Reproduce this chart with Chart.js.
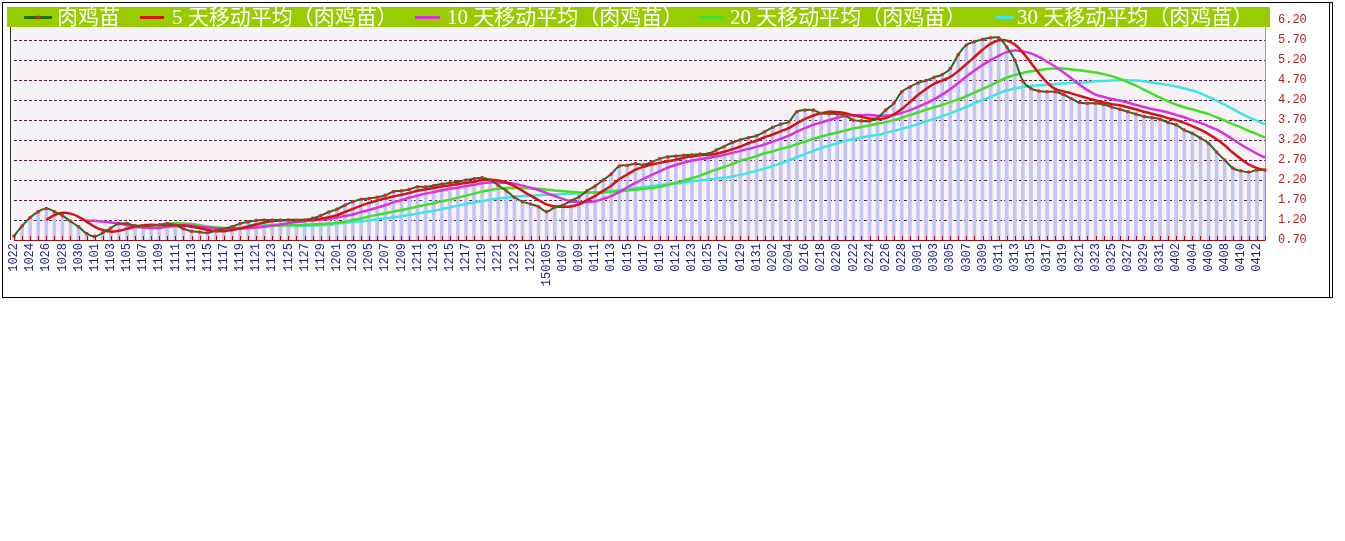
<!DOCTYPE html>
<html>
<head>
<meta charset="utf-8">
<script src="https://cdn.jsdelivr.net/npm/chart.js@4/dist/chart.umd.min.js"></script>
<style>
  html, body { margin: 0; padding: 0; background: #ffffff; }
  #wrap { width: 1345px; height: 541px; }
</style>
</head>
<body>
<div id="wrap"><canvas id="chart" width="1345" height="541"></canvas></div>
<script>
// dates (every other one is shown on the axis)
var dates = [
  '1022','1023','1024','1025','1026','1027','1028','1029','1030','1031',
  '1101','1102','1103','1104','1105','1106','1107','1108','1109','1110',
  '1111','1112','1113','1114','1115','1116','1117','1118','1119','1120',
  '1121','1122','1123','1124','1125','1126','1127','1128','1129','1130',
  '1201','1202','1203','1204','1205','1206','1207','1208','1209','1210',
  '1211','1212','1213','1214','1215','1216','1217','1218','1219','1220',
  '1221','1222','1223','1224','1225','1226','150105','0106','0107','0108',
  '0109','0110','0111','0112','0113','0114','0115','0116','0117','0118',
  '0119','0120','0121','0122','0123','0124','0125','0126','0127','0128',
  '0129','0130','0131','0201','0202','0203','0204','0215','0216','0217',
  '0218','0219','0220','0221','0222','0223','0224','0225','0226','0227',
  '0228','0228','0301','0302','0303','0304','0305','0306','0307','0308',
  '0309','0310','0311','0312','0313','0314','0315','0316','0317','0318',
  '0319','0320','0321','0322','0323','0324','0325','0326','0327','0328',
  '0329','0330','0331','0401','0402','0403','0404','0405','0406','0407',
  '0408','0409','0410','0411','0412','0413'
];

// 肉鸡苗 price
var chick = [
  0.80,1.05,1.26,1.41,1.49,1.41,1.31,1.17,1.03,0.86,
  0.79,0.88,1.00,1.11,1.11,1.06,1.05,1.06,1.08,1.11,
  1.07,0.98,0.92,0.90,0.88,0.94,0.98,1.03,1.11,1.15,
  1.19,1.20,1.20,1.20,1.20,1.19,1.20,1.24,1.31,1.40,
  1.47,1.57,1.66,1.72,1.74,1.77,1.82,1.91,1.93,1.97,
  2.03,2.03,2.06,2.10,2.13,2.16,2.20,2.23,2.26,2.20,
  2.07,1.93,1.77,1.66,1.60,1.53,1.41,1.52,1.57,1.68,
  1.78,1.93,2.05,2.20,2.35,2.55,2.57,2.61,2.58,2.65,
  2.73,2.78,2.80,2.82,2.83,2.85,2.86,2.95,3.04,3.14,
  3.21,3.26,3.31,3.41,3.52,3.60,3.66,3.91,3.95,3.95,
  3.87,3.86,3.85,3.81,3.70,3.68,3.68,3.76,3.95,4.12,
  4.41,4.53,4.63,4.69,4.77,4.84,4.99,5.34,5.58,5.66,
  5.72,5.76,5.76,5.53,5.20,4.68,4.49,4.43,4.41,4.41,
  4.34,4.24,4.14,4.12,4.12,4.09,4.03,3.97,3.91,3.85,
  3.79,3.76,3.72,3.64,3.58,3.45,3.37,3.25,3.12,2.90,
  2.70,2.50,2.43,2.40,2.45,2.45
];

var ma5 = [
  null,null,null,null,1.20,1.32,1.38,1.36,1.28,1.16,
  1.03,0.95,0.91,0.93,0.98,1.03,1.07,1.08,1.07,1.07,
  1.07,1.06,1.03,1.00,0.95,0.92,0.92,0.95,0.99,1.04,
  1.09,1.14,1.17,1.19,1.20,1.20,1.20,1.21,1.23,1.27,
  1.32,1.40,1.48,1.56,1.63,1.69,1.74,1.79,1.83,1.88,
  1.93,1.97,2.00,2.04,2.07,2.10,2.13,2.16,2.20,2.21,
  2.19,2.14,2.05,1.93,1.81,1.70,1.59,1.54,1.53,1.54,
  1.59,1.70,1.80,1.93,2.06,2.22,2.34,2.46,2.53,2.59,
  2.63,2.67,2.71,2.76,2.79,2.82,2.83,2.86,2.91,2.97,
  3.04,3.12,3.19,3.27,3.34,3.42,3.50,3.62,3.73,3.81,
  3.87,3.91,3.90,3.87,3.82,3.78,3.74,3.73,3.75,3.84,
  3.98,4.15,4.33,4.48,4.61,4.69,4.78,4.93,5.10,5.28,
  5.46,5.61,5.70,5.69,5.59,5.39,5.13,4.87,4.64,4.48,
  4.42,4.37,4.31,4.25,4.19,4.14,4.10,4.07,4.02,3.97,
  3.91,3.86,3.81,3.75,3.70,3.63,3.55,3.46,3.35,3.22,
  3.07,2.89,2.73,2.59,2.50,2.45
];

var ma10 = [
  null,null,null,null,null,null,null,null,null,1.18,
  1.18,1.16,1.14,1.11,1.07,1.03,1.01,1.00,1.00,1.03,
  1.05,1.06,1.06,1.03,1.01,1.00,0.99,0.99,0.99,1.00,
  1.01,1.03,1.06,1.09,1.12,1.15,1.17,1.19,1.21,1.23,
  1.26,1.30,1.34,1.40,1.45,1.51,1.57,1.64,1.70,1.76,
  1.81,1.86,1.90,1.94,1.98,2.01,2.05,2.08,2.12,2.14,
  2.14,2.13,2.11,2.06,2.01,1.95,1.87,1.80,1.73,1.67,
  1.65,1.65,1.67,1.73,1.80,1.90,2.02,2.13,2.23,2.33,
  2.42,2.51,2.58,2.64,2.69,2.72,2.75,2.79,2.83,2.88,
  2.93,2.98,3.03,3.09,3.16,3.23,3.31,3.41,3.50,3.58,
  3.64,3.70,3.76,3.80,3.82,3.82,3.83,3.81,3.81,3.83,
  3.88,3.95,4.03,4.12,4.22,4.34,4.47,4.63,4.79,4.94,
  5.08,5.20,5.31,5.40,5.44,5.42,5.37,5.28,5.16,5.04,
  4.90,4.75,4.59,4.45,4.34,4.28,4.23,4.19,4.14,4.08,
  4.03,3.98,3.94,3.89,3.83,3.77,3.70,3.63,3.55,3.46,
  3.35,3.22,3.09,2.97,2.86,2.76
];

var ma20 = [
  null,null,null,null,null,null,null,null,null,null,
  null,null,null,null,null,null,null,null,null,1.10,
  1.12,1.11,1.10,1.07,1.04,1.02,1.00,0.99,1.00,1.01,
  1.03,1.05,1.06,1.06,1.07,1.07,1.08,1.09,1.10,1.11,
  1.13,1.16,1.20,1.24,1.29,1.33,1.37,1.41,1.45,1.49,
  1.54,1.58,1.62,1.67,1.71,1.76,1.81,1.86,1.91,1.95,
  1.98,2.00,2.00,2.00,1.99,1.98,1.96,1.94,1.92,1.91,
  1.89,1.89,1.89,1.89,1.91,1.92,1.94,1.96,1.98,2.00,
  2.03,2.08,2.13,2.19,2.25,2.31,2.39,2.46,2.53,2.60,
  2.68,2.74,2.80,2.87,2.92,2.98,3.03,3.10,3.16,3.23,
  3.29,3.34,3.39,3.44,3.49,3.53,3.57,3.61,3.65,3.70,
  3.76,3.83,3.89,3.96,4.02,4.08,4.15,4.22,4.30,4.39,
  4.48,4.57,4.67,4.76,4.83,4.88,4.92,4.95,4.98,4.99,
  4.99,4.97,4.95,4.92,4.89,4.85,4.80,4.73,4.65,4.56,
  4.46,4.36,4.26,4.17,4.09,4.02,3.97,3.91,3.85,3.77,
  3.69,3.60,3.52,3.43,3.35,3.26
];

var ma30 = [
  null,null,null,null,null,null,null,null,null,null,
  null,null,null,null,null,null,null,null,null,null,
  null,null,null,null,null,null,null,null,null,1.07,
  1.08,1.08,1.08,1.08,1.07,1.06,1.06,1.06,1.07,1.08,
  1.11,1.13,1.15,1.17,1.19,1.22,1.24,1.27,1.30,1.33,
  1.36,1.40,1.43,1.47,1.52,1.56,1.60,1.64,1.67,1.71,
  1.74,1.76,1.78,1.80,1.81,1.82,1.83,1.84,1.85,1.86,
  1.87,1.88,1.89,1.91,1.93,1.95,1.98,2.00,2.02,2.05,
  2.07,2.10,2.12,2.14,2.17,2.19,2.21,2.24,2.26,2.29,
  2.33,2.38,2.43,2.49,2.55,2.62,2.69,2.77,2.85,2.93,
  3.00,3.06,3.12,3.18,3.22,3.26,3.30,3.33,3.38,3.43,
  3.48,3.54,3.60,3.67,3.73,3.80,3.87,3.95,4.03,4.12,
  4.20,4.28,4.37,4.44,4.49,4.53,4.56,4.57,4.59,4.60,
  4.62,4.63,4.64,4.65,4.67,4.68,4.69,4.70,4.70,4.69,
  4.67,4.64,4.61,4.58,4.54,4.49,4.44,4.37,4.28,4.19,
  4.09,3.98,3.87,3.77,3.68,3.60
];

var seriesNames = ['肉鸡苗', '5 天移动平均（肉鸡苗）', '10 天移动平均（肉鸡苗）', '20 天移动平均（肉鸡苗）', '30 天移动平均（肉鸡苗）'];
var seriesColors = ['#1f6f1f', '#d41414', '#dc32dc', '#44dd2a', '#40e4e4'];

var yMin = 0.7, yMax = 6.2, yStep = 0.5;

// background, little up-ticks on the x axis, hand drawn legend bar, outer frame
var decorPlugin = {
  id: 'decor',
  beforeDraw: function (chart) {
    var ctx = chart.ctx, a = chart.chartArea;
    ctx.save();
    ctx.fillStyle = '#ffffff';
    ctx.fillRect(0, 0, chart.width, chart.height);
    ctx.fillStyle = '#f7f2f5';
    ctx.fillRect(10, a.top, a.right - 10, a.bottom - a.top);
    ctx.strokeStyle = '#333333';
    ctx.lineWidth = 1;
    ctx.beginPath();
    ctx.moveTo(10.5, a.top);
    ctx.lineTo(10.5, a.bottom);
    ctx.stroke();
    ctx.restore();
  },
  afterDatasetsDraw: function (chart) {
    var ctx = chart.ctx, a = chart.chartArea, xs = chart.scales.x;
    ctx.save();
    ctx.strokeStyle = '#a01010';
    ctx.lineWidth = 1;
    ctx.beginPath();
    for (var i = 0; i < dates.length; i++) {
      var px = Math.round(xs.getPixelForValue(i)) + 0.5;
      ctx.moveTo(px, a.bottom);
      ctx.lineTo(px, a.bottom - 4);
    }
    ctx.stroke();
    ctx.restore();
  },
  afterDraw: function (chart) {
    var ctx = chart.ctx;
    ctx.save();
    ctx.fillStyle = '#99cc00';
    ctx.fillRect(7, 7, 1263, 20);

    var lineX = [[24, 52], [140, 164], [415, 440], [699, 724], [996, 1014]];
    var textX = [57, 172, 447, 730, 1017];
    for (var k = 0; k < seriesNames.length; k++) {
      ctx.strokeStyle = seriesColors[k];
      ctx.lineWidth = 3;
      ctx.beginPath();
      ctx.moveTo(lineX[k][0], 17.5);
      ctx.lineTo(lineX[k][1], 17.5);
      ctx.stroke();
      if (k === 0) {
        ctx.fillStyle = '#e02424';
        ctx.beginPath();
        ctx.arc((lineX[k][0] + lineX[k][1]) / 2, 17.5, 2, 0, Math.PI * 2);
        ctx.fill();
      }
      ctx.fillStyle = '#ffffff';
      ctx.font = '21px "Liberation Serif", "Noto Sans CJK SC", serif';
      ctx.textBaseline = 'middle';
      ctx.textAlign = 'left';
      ctx.fillText(seriesNames[k], textX[k], 18);
    }

    ctx.strokeStyle = '#000000';
    ctx.lineWidth = 1;
    ctx.strokeRect(2.5, 2.5, 1330, 295);
    ctx.beginPath();
    ctx.moveTo(1329.5, 2.5);
    ctx.lineTo(1329.5, 297.5);
    ctx.stroke();
    ctx.restore();
  }
};

var ctx = document.getElementById('chart');
var chart = new Chart(ctx, {
  type: 'line',
  data: {
    labels: dates,
    datasets: [
      {
        label: seriesNames[0], data: chick, borderColor: seriesColors[0], borderWidth: 2,
        pointRadius: 1.8, pointBackgroundColor: '#e02424', pointBorderWidth: 0,
        tension: 0.4, order: 0
      },
      { label: seriesNames[1], data: ma5, borderColor: seriesColors[1], borderWidth: 2.5, pointRadius: 0, tension: 0.4, order: 1 },
      { label: seriesNames[2], data: ma10, borderColor: seriesColors[2], borderWidth: 2.5, pointRadius: 0, tension: 0.4, order: 2 },
      { label: seriesNames[3], data: ma20, borderColor: seriesColors[3], borderWidth: 2.5, pointRadius: 0, tension: 0.4, order: 3 },
      { label: seriesNames[4], data: ma30, borderColor: seriesColors[4], borderWidth: 2.5, pointRadius: 0, tension: 0.4, order: 4 },
      {
        type: 'bar', label: 'bars', data: chick, backgroundColor: '#c4c4f2',
        barThickness: 3, order: 10
      }
    ]
  },
  options: {
    responsive: false,
    animation: false,
    events: [],
    layout: { padding: { left: 14, top: 20, right: 0, bottom: 0 } },
    plugins: {
      legend: { display: false },
      tooltip: { enabled: false }
    },
    scales: {
      x: {
        type: 'category',
        offset: false,
        grid: { display: false, drawTicks: false },
        border: { display: true, color: '#a01010', width: 1 },
        ticks: {
          autoSkip: false,
          minRotation: 90,
          maxRotation: 90,
          padding: 3,
          color: '#1c1c86',
          font: { family: '"Liberation Mono", "DejaVu Sans Mono", monospace', size: 12 },
          callback: function (value, index) {
            return index % 2 === 0 ? this.getLabelForValue(value) : '';
          }
        },
        afterFit: function (scale) { scale.height = 301; }
      },
      y: {
        position: 'right',
        min: yMin,
        max: yMax,
        grid: {
          drawTicks: false,
          lineWidth: 1,
          color: function (c) {
            return (c.tick && Math.abs(c.tick.value - yMin) < 0.01) ? 'rgba(0,0,0,0)' : '#4e1a48';
          }
        },
        border: { display: true, color: '#9a9a9a', dash: [3, 2] },
        ticks: {
          stepSize: yStep,
          padding: 13,
          color: '#b02020',
          font: { family: '"Liberation Mono", "DejaVu Sans Mono", monospace', size: 12 },
          callback: function (value) { return Number(value).toFixed(2); }
        },
        afterFit: function (scale) { scale.width = 80; }
      }
    }
  },
  plugins: [decorPlugin]
});
</script>
</body>
</html>
